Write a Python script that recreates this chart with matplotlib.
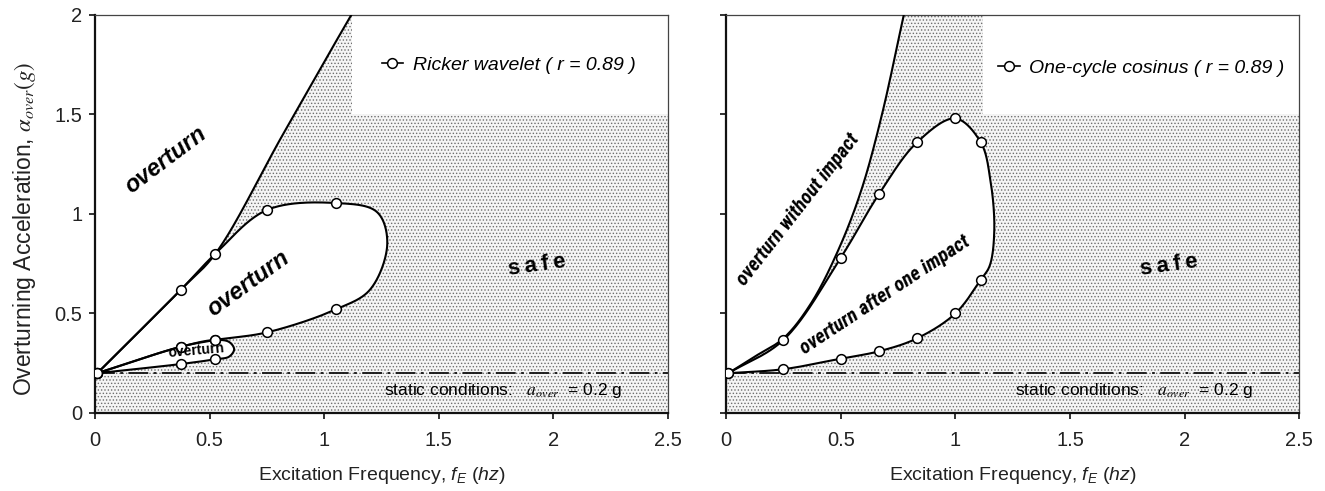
import numpy as np
import matplotlib
matplotlib.use("Agg")
import matplotlib.pyplot as plt
from matplotlib import font_manager as fm
from matplotlib.patches import Rectangle
from matplotlib.lines import Line2D

plt.rcParams['font.family'] = ['Liberation Sans', 'DejaVu Sans']
plt.rcParams['mathtext.fontset'] = 'custom'
plt.rcParams['mathtext.rm'] = 'Liberation Sans'
plt.rcParams['mathtext.it'] = 'Liberation Sans:italic'
plt.rcParams['mathtext.bf'] = 'Liberation Sans:bold'
plt.rcParams['hatch.linewidth'] = 0.6

# ---------------- data ----------------
x_ticks = [0, 0.5, 1, 1.5, 2, 2.5]
x_tick_labels = ["0", "0.5", "1", "1.5", "2", "2.5"]
y_ticks = [0, 0.5, 1, 1.5, 2]
y_tick_labels = ["0", "0.5", "1", "1.5", "2"]
static_level = 0.2

# Ricker wavelet (left)
ricker_outer_x = [0.01, 0.375, 0.525, 0.82, 1.118, 1.16]
ricker_outer_y = [0.20, 0.62, 0.80, 1.40, 2.00, 2.08]
ricker_loop_x = [0.01, 0.375, 0.525, 0.75, 1.05, 1.23, 1.275, 1.20, 1.05, 0.75, 0.525, 0.375, 0.01]
ricker_loop_y = [0.20, 0.62, 0.80, 1.02, 1.055, 1.01, 0.85, 0.62, 0.52, 0.405, 0.367, 0.333, 0.20]
ricker_loop_marked = [1, 1, 1, 1, 1, 0, 0, 0, 1, 1, 1, 1, 1]
ricker_small_x = [0.01, 0.375, 0.525, 0.585, 0.607, 0.585, 0.525, 0.375, 0.01]
ricker_small_y = [0.20, 0.333, 0.367, 0.357, 0.32, 0.283, 0.27, 0.246, 0.20]
ricker_small_marked = [1, 1, 1, 0, 0, 0, 1, 1, 1]

# One-cycle cosinus (right)
cos_outer_x = [0.01, 0.12, 0.25, 0.37, 0.49, 0.59, 0.68, 0.775, 0.80]
cos_outer_y = [0.20, 0.28, 0.375, 0.55, 0.82, 1.12, 1.50, 2.00, 2.13]
cos_loop_x = [0.01, 0.25, 0.5, 0.667, 0.833, 1.0, 1.111, 1.153, 1.17, 1.15, 1.111, 1.0, 0.833, 0.667, 0.5, 0.25, 0.01]
cos_loop_y = [0.20, 0.367, 0.78, 1.10, 1.36, 1.48, 1.36, 1.17, 0.92, 0.74, 0.67, 0.50, 0.375, 0.31, 0.273, 0.22, 0.20]
cos_loop_marked = [1, 1, 1, 1, 1, 1, 1, 0, 0, 0, 1, 1, 1, 1, 1, 1, 1]

legend_box = (1.12, 1.5)  # lower-left corner of white legend area

# ---------------- helpers ----------------
YS = 199.0 / 229.0  # aspect of data units in pixels


def smooth(xs, ys, n=40, alpha=0.5):
    P = np.column_stack([np.asarray(xs, float), np.asarray(ys, float) * YS])
    ext = np.vstack([2 * P[0] - P[1], P, 2 * P[-1] - P[-2]])
    out = []
    for i in range(len(ext) - 3):
        p0, p1, p2, p3 = ext[i:i + 4]
        t0 = 0.0
        t1 = t0 + np.linalg.norm(p1 - p0) ** alpha
        t2 = t1 + np.linalg.norm(p2 - p1) ** alpha
        t3 = t2 + np.linalg.norm(p3 - p2) ** alpha
        t = np.linspace(t1, t2, n, endpoint=False)[:, None]
        A1 = (t1 - t) / (t1 - t0) * p0 + (t - t0) / (t1 - t0) * p1
        A2 = (t2 - t) / (t2 - t1) * p1 + (t - t1) / (t2 - t1) * p2
        A3 = (t3 - t) / (t3 - t2) * p2 + (t - t2) / (t3 - t2) * p3
        B1 = (t2 - t) / (t2 - t0) * A1 + (t - t0) / (t2 - t0) * A2
        B2 = (t3 - t) / (t3 - t1) * A2 + (t - t1) / (t3 - t1) * A3
        C = (t2 - t) / (t2 - t1) * B1 + (t - t1) / (t2 - t1) * B2
        out.append(C)
    out.append(P[-1:])
    S = np.vstack(out)
    return S[:, 0], S[:, 1] / YS


def marks(marked, n=40):
    return [i * n for i, m in enumerate(marked) if m]


LW = 1.5
MK = dict(marker='o', markersize=7, markerfacecolor='white', markeredgecolor='black', markeredgewidth=1.1)


def setup(ax, show_ylabels):
    ax.set_xlim(0, 2.5)
    ax.set_ylim(0, 2)
    ax.set_xticks(x_ticks)
    ax.set_xticklabels(x_tick_labels)
    ax.set_yticks(y_ticks)
    ax.set_yticklabels(y_tick_labels)
    ax.tick_params(direction='out', length=4, width=1.3, labelsize=14.5, colors='#222222')
    ax.tick_params(axis='x', pad=9)
    ax.tick_params(axis='y', pad=5, labelleft=show_ylabels)
    for s in ['left', 'bottom']:
        ax.spines[s].set_linewidth(1.6)
        ax.spines[s].set_color('#111111')
    for s in ['top', 'right']:
        ax.spines[s].set_linewidth(0.9)
        ax.spines[s].set_color('#444444')
    # stipple background (safe region) + white legend area
    ax.add_patch(Rectangle((0, 0), 2.5, 2, facecolor='#f5f5f5', edgecolor='#6e6e6e', lw=0,
                           hatch='.....', zorder=0.5))
    ax.add_patch(Rectangle(legend_box, 2.5 - legend_box[0], 2 - legend_box[1], facecolor='white',
                           edgecolor='none', zorder=0.8))
    ax.axhline(static_level, color='#111111', lw=1.3, dashes=(11, 3, 1.5, 3), zorder=2)
    ax.text(1.26, 0.115, r"static conditions:   $a_{over}$  = 0.2 g", fontsize=12.5, va='center',
            ha='left', zorder=4, math_fontfamily='stix')
    ax.set_xlabel(r"Excitation Frequency, $f_E\ \mathit{(hz)}$", fontsize=14, color='#222222')
    ax.xaxis.set_label_coords(0.5, -0.13)


fig = plt.figure(figsize=(13.25, 4.91), dpi=100)
axL = fig.add_axes([0.0717, 0.1589, 0.4325, 0.8106])
axR = fig.add_axes([0.548, 0.1589, 0.4325, 0.8106])

# ---------------- left panel ----------------
setup(axL, True)
ox, oy = smooth(ricker_outer_x, ricker_outer_y)
axL.fill(list(ox) + [ox[-1], -0.2, -0.2], list(oy) + [2.6, 2.6, static_level], color='white', zorder=1)
lx, ly = smooth(ricker_loop_x, ricker_loop_y)
axL.fill(lx, ly, color='white', zorder=1)
sx, sy = smooth(ricker_small_x, ricker_small_y)
axL.fill(sx, sy, color='white', zorder=1)
axL.plot(ox, oy, color='black', lw=LW, zorder=3)
axL.plot(lx, ly, color='black', lw=LW, zorder=3, markevery=marks(ricker_loop_marked), **MK)
axL.plot(sx, sy, color='black', lw=LW, zorder=3, markevery=marks(ricker_small_marked), **MK)
axL.set_ylabel(r"Overturning Acceleration, $\alpha_{over}(g)$", fontsize=16.5, color='#222222',
               math_fontfamily='stix')
axL.yaxis.set_label_coords(-0.100, 0.462)

bi = dict(fontweight='bold', fontstyle='italic', ha='center', va='center', zorder=4)
axL.text(0.31, 1.27, "overturn", fontsize=17, rotation=37, **bi)
axL.text(0.67, 0.65, "overturn", fontsize=17, rotation=36, **bi)
axL.text(0.441, 0.312, "overturn", fontsize=10, rotation=5, fontweight='bold', ha='center',
         va='center', zorder=4)
safe_txt = "s\u2009a\u2009f\u2009e"
axL.text(1.93, 0.74, safe_txt, fontsize=16, rotation=8, fontweight='bold', ha='center',
         va='center', zorder=4, family=['Liberation Sans', 'DejaVu Sans'])
hL = Line2D([], [], color='black', lw=1.2, **MK)
axL.legend([hL], ["Ricker wavelet ( r = 0.89 )"], loc='center left', bbox_to_anchor=(0.50, 0.874),
           frameon=False, borderaxespad=0, borderpad=0, handlelength=1.1, handletextpad=0.5,
           prop=dict(size=14, style='italic'))

# ---------------- right panel ----------------
setup(axR, False)
cx, cy = smooth(cos_outer_x, cos_outer_y)
axR.fill(list(cx) + [cx[-1], -0.2, -0.2], list(cy) + [2.6, 2.6, static_level], color='white', zorder=1)
kx, ky = smooth(cos_loop_x, cos_loop_y)
axR.fill(kx, ky, color='white', zorder=1)
axR.plot(cx, cy, color='black', lw=LW, zorder=3)
axR.plot(kx, ky, color='black', lw=LW, zorder=3, markevery=marks(cos_loop_marked), **MK)

names = {f.name for f in fm.fontManager.ttflist}
narrow = None
for cand in ['Liberation Sans Narrow', 'DejaVu Sans Condensed', 'Roboto Condensed', 'Open Sans Condensed']:
    if cand in names:
        narrow = cand
        break
if narrow:
    nfam, nsize = [narrow, 'DejaVu Sans'], 14.5
else:
    nfam, nsize = ['Liberation Sans', 'DejaVu Sans'], 12.2
axR.text(0.314, 1.02, "overturn without impact", fontsize=nsize, rotation=52, family=nfam, **bi)
axR.text(0.694, 0.593, "overturn after one impact", fontsize=nsize, rotation=33.5, family=nfam, **bi)
axR.text(1.93, 0.74, safe_txt, fontsize=16, rotation=8, fontweight='bold', ha='center',
         va='center', zorder=4, family=['Liberation Sans', 'DejaVu Sans'])
hR = Line2D([], [], color='black', lw=1.2, **MK)
axR.legend([hR], ["One-cycle cosinus ( r = 0.89 )"], loc='center left', bbox_to_anchor=(0.475, 0.867),
           frameon=False, borderaxespad=0, borderpad=0, handlelength=1.1, handletextpad=0.5,
           prop=dict(size=14, style='italic'))

fig.savefig("out.png", dpi=100)
